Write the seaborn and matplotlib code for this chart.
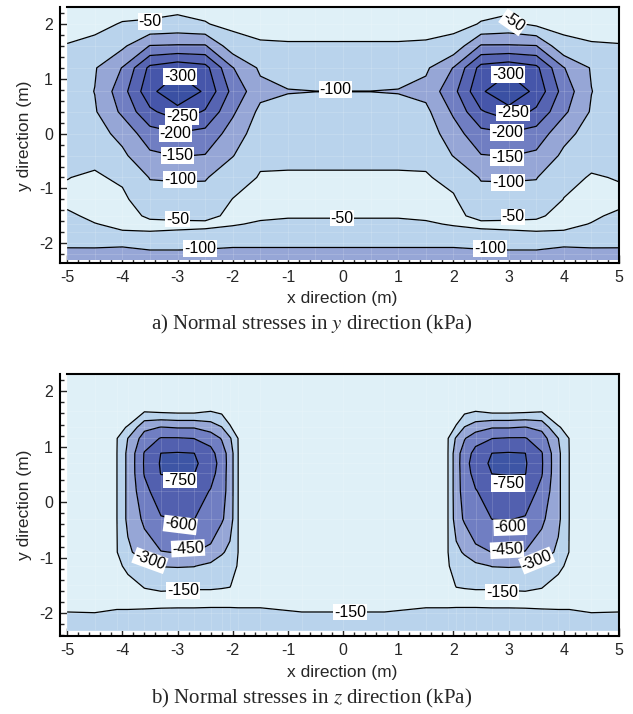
import numpy as np
import matplotlib
matplotlib.use("Agg")
import matplotlib.pyplot as plt
from matplotlib.ticker import MultipleLocator
import seaborn as sns

# ---- panel a: normal stresses in y direction (kPa) ----
sy_x = [-5.0, -4.5, -4.0, -3.5, -3.0, -2.5, -2.0, -1.5, -1.0, -0.5, 0.0,
        0.5, 1.0, 1.5, 2.0, 2.5, 3.0, 3.5, 4.0, 4.5, 5.0]
sy_y = [-2.3, -2.2, -2.0, -1.8, -1.65, -1.5, -1.2, -0.8, -0.4, 0.0, 0.4, 0.77, 1.2, 1.6, 2.0, 2.31]
# one list per x node, values from bottom (y=-2.3) to top (y=2.31)
sy_cols = [
    [-120, -110, -93, -75, -65, -55, -42, -51, -60, -68, -72, -75, -70, -51, -42, -35],         # -5
    [-122, -111, -92, -60, -51, -44, -38, -44, -62, -80, -95, -101, -96, -58, -42, -35],        # -4.5
    [-124, -112, -94, -52, -44, -38, -40, -58, -90, -115, -160, -180, -152, -90, -52, -38],     # -4
    [-120, -105, -92, -51, -43, -55, -82, -102, -140, -180, -240, -285, -262, -152, -55, -38],  # -3.5
    [-120, -105, -92, -52, -45, -56, -80, -105, -152, -196, -280, -345, -285, -155, -62, -40],  # -3
    [-120, -106, -93, -53, -46, -56, -80, -104, -148, -185, -245, -292, -268, -155, -52, -40],  # -2.5
    [-118, -108, -95, -58, -48, -45, -49, -70, -102, -128, -158, -185, -152, -70, -40, -35],    # -2
    [-118, -108, -95, -62, -53, -46, -40, -47, -58, -72, -88, -115, -92, -53, -42, -36],        # -1.5
    [-118, -108, -95, -64, -55, -48, -40, -46, -58, -70, -85, -102, -82, -52, -42, -36],        # -1
    [-118, -108, -95, -64, -55, -48, -40, -46, -58, -70, -85, -100.3, -82, -52, -42, -36],      # -0.5
    [-118, -108, -95, -64, -55, -48, -40, -46, -58, -70, -85, -100.3, -82, -52, -42, -36],      # 0
    [-118, -108, -95, -64, -55, -48, -40, -46, -58, -70, -85, -100.3, -82, -52, -42, -36],      # 0.5
    [-118, -108, -95, -64, -55, -48, -40, -46, -58, -70, -85, -102, -82, -52, -42, -36],        # 1
    [-118, -108, -95, -62, -53, -46, -40, -47, -58, -72, -88, -115, -92, -53, -42, -36],        # 1.5
    [-118, -108, -95, -58, -48, -45, -46, -60, -102, -128, -158, -185, -152, -65, -38, -35],    # 2
    [-120, -106, -93, -53, -46, -56, -80, -104, -148, -185, -245, -292, -268, -155, -52, -40],  # 2.5
    [-120, -105, -92, -52, -45, -56, -80, -105, -152, -196, -280, -345, -285, -155, -62, -40],  # 3
    [-120, -105, -92, -51, -43, -55, -82, -102, -140, -180, -240, -285, -262, -152, -40, -32],  # 3.5
    [-124, -112, -94, -52, -44, -40, -49, -62, -90, -115, -160, -180, -152, -60, -40, -32],     # 4
    [-122, -111, -92, -60, -51, -46, -40, -47, -62, -80, -95, -101, -96, -52, -42, -35],        # 4.5
    [-120, -110, -93, -75, -65, -55, -42, -52, -60, -68, -72, -75, -70, -51, -42, -35],         # 5
]
sy_levels = [-400, -300, -250, -200, -150, -100, -50, 0]
sy_lines = [-300, -250, -200, -150, -100, -50]
sy_colors = ["#3a50a3", "#4656aa", "#5664b2", "#707ec2", "#96a6d6", "#b9d3ec", "#dff0f7"]
sy_label_xy = [(-3.5, 2.05), (3.08, 2.03), (-2.95, 1.04), (2.99, 1.08), (-2.92, 0.31), (3.08, 0.38),
               (-3.04, 0.0), (2.97, 0.02), (-3.0, -0.4), (2.97, -0.44), (-2.95, -0.84), (2.99, -0.89),
               (-0.14, 0.8), (-3.0, -1.56), (-0.02, -1.54), (3.08, -1.52), (-2.59, -2.1), (2.66, -2.1)]
sy_label_rot = [0, -35, 0, 0, 0, 0, 0, 0, 0, 0, 0, 0, 0, 0, 0, 0, 0, 0]

# ---- panel b: normal stresses in z direction (kPa) ----
sz_x = [-5.0, -4.5, -4.1, -3.9, -3.6, -3.3, -3.0, -2.7, -2.4, -2.2, -2.05, -1.9, -1.5, -0.75, 0.0,
        0.75, 1.5, 1.9, 2.05, 2.2, 2.4, 2.7, 3.0, 3.3, 3.6, 3.9, 4.1, 4.5, 5.0]
sz_y = [-2.31, -2.0, -1.75, -1.5, -1.15, -0.9, -0.3, 0.2, 0.52, 0.7, 0.88, 1.15, 1.35, 1.65, 2.31]
sz_cols = [
    [-180, -155, -100, -80, -70, -65, -60, -55, -55, -55, -55, -55, -55, -50, -40],             # -5
    [-180, -152, -100, -80, -75, -70, -65, -62, -62, -62, -62, -60, -58, -50, -40],             # -4.5
    [-180, -165, -110, -95, -120, -145, -148, -148, -148, -148, -148, -145, -110, -60, -45],     # -4.1
    [-180, -165, -110, -110, -180, -270, -335, -335, -335, -335, -335, -302, -160, -60, -45],   # -3.9
    [-180, -168, -110, -160, -250, -380, -480, -560, -610, -615, -610, -520, -410, -130, -45],  # -3.6
    [-180, -170, -115, -175, -305, -445, -590, -680, -755, -765, -752, -610, -455, -110, -45],  # -3.3
    [-180, -172, -115, -170, -310, -455, -605, -690, -758, -800, -760, -610, -440, -100, -45],  # -3.0
    [-180, -172, -115, -165, -305, -452, -602, -680, -752, -770, -752, -598, -440, -100, -45],  # -2.7
    [-180, -175, -115, -165, -260, -420, -540, -590, -660, -690, -650, -540, -380, -140, -45],  # -2.4
    [-180, -175, -115, -160, -220, -320, -470, -510, -520, -530, -520, -440, -305, -110, -45],  # -2.2
    [-180, -175, -115, -155, -200, -260, -380, -390, -390, -390, -390, -320, -160, -90, -45],   # -2.05
    [-182, -176, -110, -105, -140, -148, -148, -148, -148, -148, -148, -145, -100, -70, -45],    # -1.9
    [-182, -176, -110, -80, -70, -65, -60, -58, -58, -58, -58, -58, -55, -50, -40],             # -1.5
    [-180, -155, -100, -80, -70, -65, -60, -58, -58, -58, -58, -58, -55, -50, -40],             # -0.75
    [-180, -155, -100, -80, -70, -65, -60, -58, -58, -58, -58, -58, -55, -50, -40],             # 0
    [-180, -155, -100, -80, -70, -65, -60, -58, -58, -58, -58, -58, -55, -50, -40],             # 0.75
    [-182, -176, -110, -80, -70, -65, -60, -58, -58, -58, -58, -58, -55, -50, -40],             # 1.5
    [-182, -176, -110, -105, -140, -148, -148, -148, -148, -148, -148, -145, -100, -70, -45],    # 1.9
    [-180, -175, -115, -155, -200, -260, -380, -390, -390, -390, -390, -320, -160, -90, -45],   # 2.05
    [-180, -175, -115, -160, -220, -320, -470, -510, -520, -530, -520, -440, -305, -110, -45],  # 2.2
    [-180, -175, -115, -165, -260, -420, -540, -590, -660, -690, -650, -540, -380, -140, -45],  # 2.4
    [-180, -172, -115, -165, -305, -452, -602, -680, -752, -770, -752, -598, -440, -100, -45],  # 2.7
    [-180, -172, -115, -170, -310, -455, -605, -690, -758, -800, -760, -610, -440, -100, -45],  # 3.0
    [-180, -170, -115, -175, -305, -445, -590, -680, -755, -765, -752, -610, -455, -110, -45],  # 3.3
    [-180, -168, -110, -160, -250, -380, -480, -560, -610, -615, -610, -520, -410, -130, -45],  # 3.6
    [-180, -165, -110, -110, -180, -270, -335, -335, -335, -335, -335, -302, -160, -60, -45],   # 3.9
    [-180, -165, -110, -95, -120, -145, -148, -148, -148, -148, -148, -145, -110, -60, -45],     # 4.1
    [-180, -152, -100, -80, -75, -70, -65, -62, -62, -62, -62, -60, -58, -50, -40],             # 4.5
    [-180, -155, -100, -80, -70, -65, -60, -55, -55, -55, -55, -55, -55, -50, -40],             # 5
]
sz_levels = [-900, -750, -600, -450, -300, -150, 0]
sz_lines = [-750, -600, -450, -300, -150]
sz_colors = ["#3d55a5", "#5260af", "#707ec2", "#96a6d6", "#b9d3ec", "#dff0f7"]
sz_label_xy = [(-2.95, 0.4), (2.99, 0.34), (-2.95, -0.41), (3.03, -0.45), (-2.81, -0.83), (2.97, -0.86),
               (-3.5, -1.05), (3.51, -1.05), (-2.9, -1.59), (2.88, -1.62), (0.13, -1.98)]
sz_label_rot = [0, 0, -7, 2, 3, 3, -20, 22, 0, 0, 0]

sns.set_theme(style="ticks")
plt.rcParams["font.family"] = ["Liberation Sans", "DejaVu Sans"]
plt.rcParams["axes.unicode_minus"] = False
plt.rcParams["mathtext.fontset"] = "stix"


def stress_panel(ax, xs, ys, cols, levels, lines, colors, label_xy, label_rot, ylim):
    z = np.array(cols, dtype=float).T
    X, Y = np.meshgrid(xs, ys)
    ax.contourf(X, Y, z, levels=levels, colors=sns.color_palette(colors))
    # faint finite element mesh
    ax.vlines(xs, ys[0], ys[-1], colors="white", linewidths=0.5, alpha=0.2, zorder=1.5)
    ax.hlines(ys, xs[0], xs[-1], colors="white", linewidths=0.5, alpha=0.2, zorder=1.5)
    cs = ax.contour(X, Y, z, levels=lines, colors="black", linewidths=0.9, linestyles="solid")
    labels = ax.clabel(cs, lines, inline=False, fontsize=11.5, fmt="%d", manual=label_xy)
    for t, xy, rot in zip(labels, label_xy, label_rot):
        t.set_position(xy)
        t.set_rotation(rot)
        t.set_bbox(dict(facecolor="white", edgecolor="none", pad=0.6))
    ax.set_xlim(-5.13, 5)
    ax.set_ylim(ylim)
    ax.xaxis.set_major_locator(MultipleLocator(1))
    ax.xaxis.set_minor_locator(MultipleLocator(0.2))
    ax.yaxis.set_major_locator(MultipleLocator(1))
    ax.yaxis.set_minor_locator(MultipleLocator(0.2))
    ax.set_yticks([-2, -1, 0, 1, 2])
    ax.tick_params(which="both", direction="in", top=False, right=False, width=1.0, labelsize=11.5)
    ax.tick_params(which="major", length=5.5, pad=5)
    ax.tick_params(which="minor", length=3)
    for side in ["left", "bottom", "top", "right"]:
        ax.spines[side].set_linewidth(1.5)
        ax.spines[side].set_color("black")
    ax.spines["top"].set_bounds(-5, 5)
    ax.set_xlabel("")
    ax.set_ylabel("")


fig = plt.figure(figsize=(6.33, 7.14), dpi=100)
ax1 = fig.add_axes([60 / 633, 1 - 263 / 714, 559 / 633, 256 / 714])
ax2 = fig.add_axes([60 / 633, 1 - 636 / 714, 559 / 633, 262 / 714])

stress_panel(ax1, sy_x, sy_y, sy_cols, sy_levels, sy_lines, sy_colors, sy_label_xy, sy_label_rot, (-2.36, 2.31))
stress_panel(ax2, sz_x, sz_y, sz_cols, sz_levels, sz_lines, sz_colors, sz_label_xy, sz_label_rot, (-2.41, 2.31))

# axis titles and captions
fig.text(342 / 633, 1 - 298 / 714, "x direction (m)", ha="center", va="center", fontsize=12.5)
fig.text(25 / 633, 1 - 136 / 714, "y direction (m)", rotation=90, ha="center", va="center", fontsize=12.5)
fig.text(342 / 633, 1 - 672 / 714, "x direction (m)", ha="center", va="center", fontsize=12.5)
fig.text(25 / 633, 1 - 505 / 714, "y direction (m)", rotation=90, ha="center", va="center", fontsize=12.5)

fig.text(312 / 633, 1 - 324 / 714, r"a) Normal stresses in $y$ direction (kPa)",
         ha="center", va="center", fontsize=15, family=["Liberation Serif", "DejaVu Serif"])
fig.text(312 / 633, 1 - 698 / 714, r"b) Normal stresses in $z$ direction (kPa)",
         ha="center", va="center", fontsize=15, family=["Liberation Serif", "DejaVu Serif"])

fig.savefig("out.png", dpi=100)
